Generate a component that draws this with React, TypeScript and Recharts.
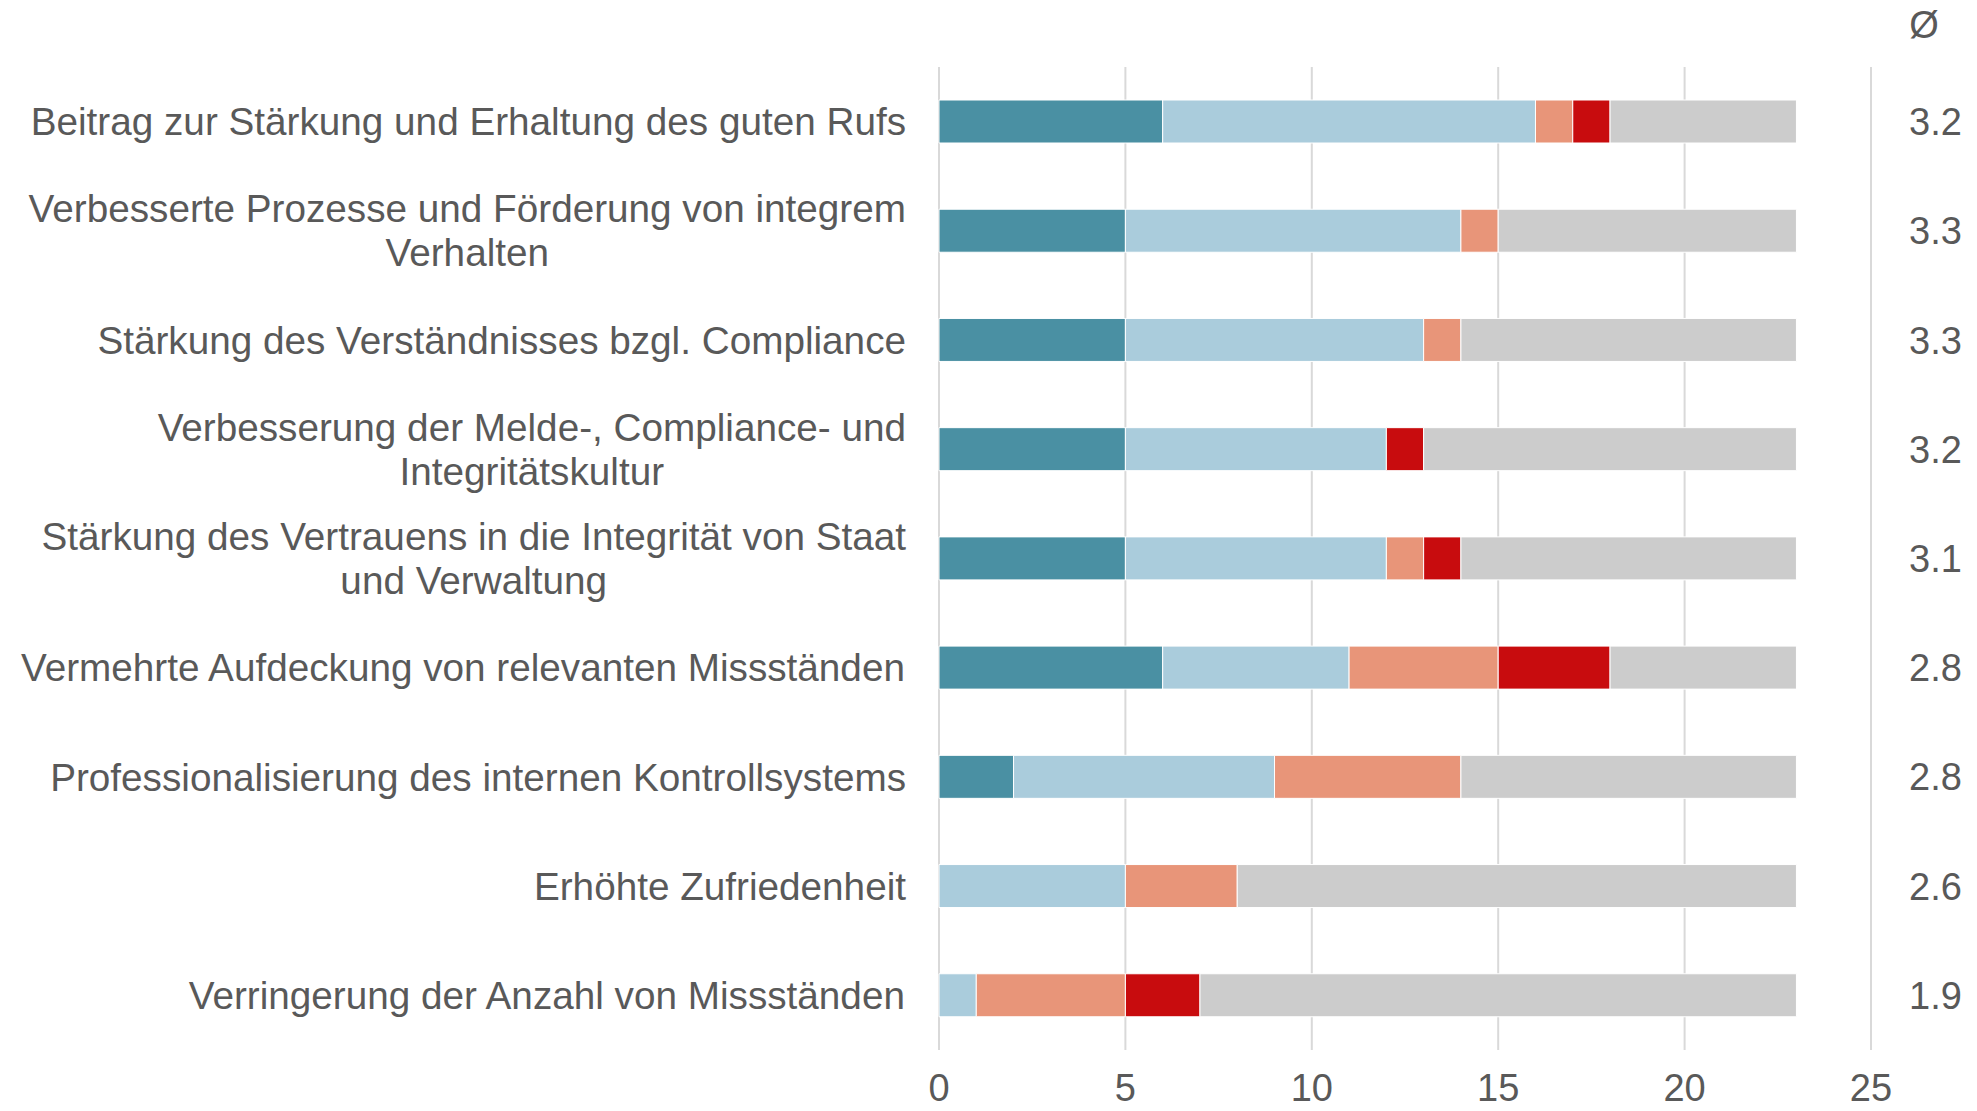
import { BarChart, Bar, XAxis, YAxis, CartesianGrid, Label } from "recharts";

const CATEGORIES = [
  "Beitrag zur Stärkung und Erhaltung des guten Rufs",
  "Verbesserte Prozesse und Förderung von integrem\nVerhalten",
  "Stärkung des Verständnisses bzgl. Compliance",
  "Verbesserung der Melde-, Compliance- und\nIntegritätskultur",
  "Stärkung des Vertrauens in die Integrität von Staat\nund Verwaltung",
  "Vermehrte Aufdeckung von relevanten Missständen",
  "Professionalisierung des internen Kontrollsystems",
  "Erhöhte Zufriedenheit",
  "Verringerung der Anzahl von Missständen",
];

const TRIFFT_ZU = [6, 5, 5, 5, 5, 6, 2, 0, 0];
const TRIFFT_EHER_ZU = [10, 9, 8, 7, 7, 5, 7, 5, 1];
const TRIFFT_EHER_NICHT_ZU = [1, 1, 1, 0, 1, 4, 5, 3, 4];
const TRIFFT_NICHT_ZU = [1, 0, 0, 1, 1, 3, 0, 0, 2];
const KEINE_ANGABE = [5, 8, 9, 10, 9, 5, 9, 15, 16];
const AVERAGES = ["3.2", "3.3", "3.3", "3.2", "3.1", "2.8", "2.8", "2.6", "1.9"];
const X_TICKS = [0, 5, 10, 15, 20, 25];

const SERIES = [
  { key: "trifftZu", color: "#4a90a3" },
  { key: "trifftEherZu", color: "#aaccdc" },
  { key: "trifftEherNichtZu", color: "#e89579" },
  { key: "trifftNichtZu", color: "#c80c0e" },
  { key: "keineAngabe", color: "#cccccc" },
];

const data = CATEGORIES.map((name, i) => ({
  name,
  trifftZu: TRIFFT_ZU[i],
  trifftEherZu: TRIFFT_EHER_ZU[i],
  trifftEherNichtZu: TRIFFT_EHER_NICHT_ZU[i],
  trifftNichtZu: TRIFFT_NICHT_ZU[i],
  keineAngabe: KEINE_ANGABE[i],
}));

const FONT = '"Liberation Sans", Arial, sans-serif';
const FONT_SIZE = 38;
const LABEL_SIZE = 38.7;
const TEXT_COLOR = "#595959";
const LINE_HEIGHT = 44;

let ctx: CanvasRenderingContext2D | null = null;
function measure(s: string) {
  if (!ctx) ctx = document.createElement("canvas").getContext("2d");
  if (!ctx) return s.length * LABEL_SIZE * 0.5;
  ctx.font = `${LABEL_SIZE}px "Liberation Sans"`;
  return ctx.measureText(s).width;
}

// right-aligned block, lines centred on each other
function CategoryTick(props: any) {
  const { x, y, payload } = props;
  const lines = String(payload.value).split("\n");
  const w = Math.max(...lines.map(measure));
  const cx = x - w / 2;
  const first = y + 13.6 - ((lines.length - 1) * LINE_HEIGHT) / 2;
  return (
    <text fill={TEXT_COLOR} fontSize={LABEL_SIZE} fontFamily={FONT} textAnchor="middle">
      {lines.map((l, i) => (
        <tspan key={i} x={cx} y={first + i * LINE_HEIGHT}>
          {l}
        </tspan>
      ))}
    </text>
  );
}

export default function App() {
  return (
    <div style={{ position: "absolute", left: 0, top: 0, background: "#fff" }}>
      <BarChart
        width={1977}
        height={1111}
        data={data}
        layout="vertical"
        margin={{ top: 67, right: 0, bottom: 0, left: 0 }}
        barSize={43}
      >
        <CartesianGrid horizontal={false} stroke="#d9d9d9" strokeWidth={2} />
        <XAxis
          type="number"
          domain={[0, 25]}
          ticks={X_TICKS}
          height={61}
          axisLine={false}
          tickLine={false}
          tickSize={0}
          tickMargin={24}
          tick={{ fontSize: FONT_SIZE, fill: TEXT_COLOR, fontFamily: FONT }}
        />
        <YAxis
          type="category"
          dataKey="name"
          width={939}
          axisLine={false}
          tickLine={false}
          tickSize={0}
          tickMargin={33}
          tick={<CategoryTick />}
          interval={0}
        />
        <YAxis
          yAxisId="avg"
          orientation="right"
          type="category"
          dataKey="name"
          width={106}
          axisLine={false}
          tickLine={false}
          tickSize={0}
          tickMargin={38}
          interval={0}
          tickFormatter={(_v: string, i: number) => AVERAGES[i]}
          tick={{ fontSize: FONT_SIZE, fill: TEXT_COLOR, fontFamily: FONT, textAnchor: "start" }}
        >
          <Label
            value="Ø"
            position="top"
            offset={29}
            fontSize={FONT_SIZE}
            fill={TEXT_COLOR}
            fontFamily={FONT}
          />
        </YAxis>
        {SERIES.map((s) => (
          <Bar
            key={s.key}
            dataKey={s.key}
            stackId="a"
            fill={s.color}
            stroke="#ffffff"
            strokeWidth={1}
            isAnimationActive={false}
          />
        ))}
      </BarChart>
    </div>
  );
}
